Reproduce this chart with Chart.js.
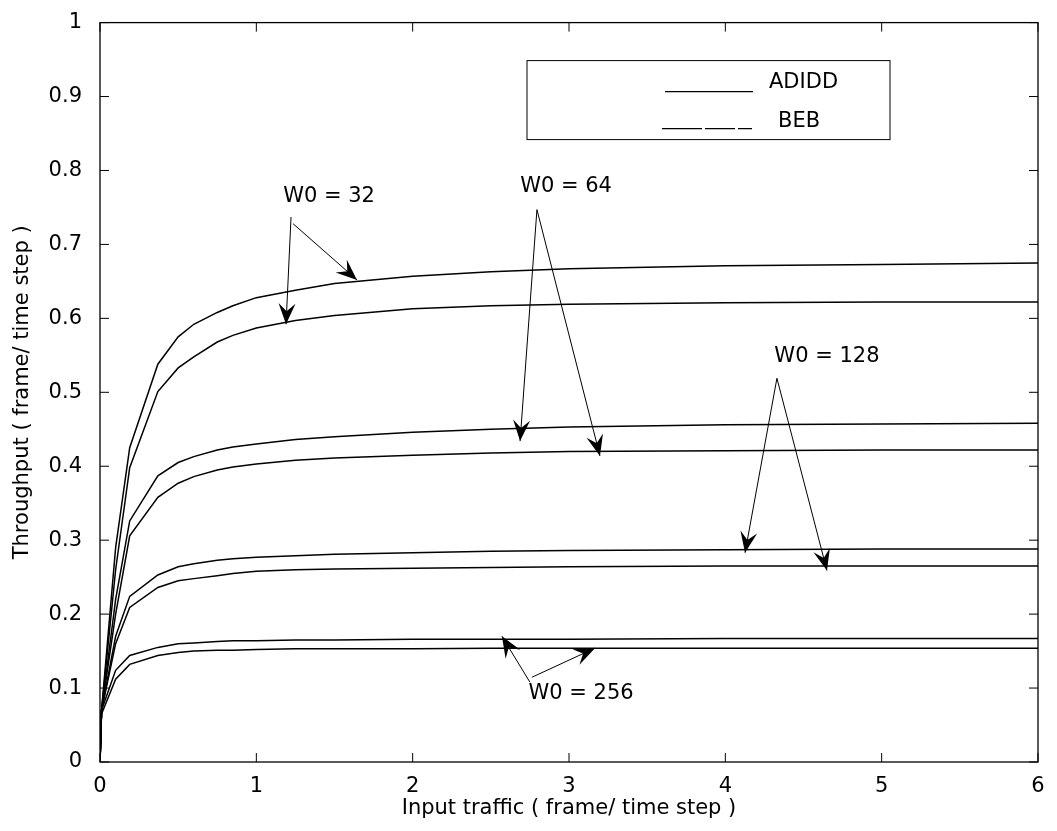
<!DOCTYPE html>
<html>
<head>
<meta charset="utf-8">
<script src="https://cdn.jsdelivr.net/npm/chart.js@4"></script>
<style>
  body { margin: 0; background: #fff; }
  canvas { display: block; }
</style>
</head>
<body>
<canvas id="grafico" width="1057" height="831"></canvas>
<script>
// input traffic sample points (frame / time step)
const trafico = [0, 0.01, 0.1, 0.19, 0.37, 0.5, 0.6, 0.75, 0.85, 1, 1.25, 1.5, 2, 2.5, 3, 4, 5, 6];

// throughput for each initial window W0
const adidd32 = [0, 0.07, 0.29, 0.425, 0.538, 0.575, 0.592, 0.608, 0.617, 0.628, 0.638, 0.647, 0.657, 0.663, 0.667, 0.671, 0.673, 0.675];
const beb32 = [0, 0.07, 0.26, 0.398, 0.501, 0.533, 0.548, 0.568, 0.577, 0.587, 0.597, 0.604, 0.613, 0.617, 0.619, 0.621, 0.622, 0.622];
const adidd64 = [0, 0.07, 0.22, 0.326, 0.387, 0.405, 0.413, 0.422, 0.426, 0.430, 0.436, 0.440, 0.446, 0.450, 0.453, 0.456, 0.457, 0.458];
const beb64 = [0, 0.07, 0.2, 0.306, 0.358, 0.377, 0.386, 0.395, 0.399, 0.403, 0.408, 0.411, 0.415, 0.418, 0.420, 0.421, 0.422, 0.422];
const adidd128 = [0, 0.07, 0.17, 0.224, 0.253, 0.264, 0.268, 0.273, 0.275, 0.277, 0.279, 0.281, 0.283, 0.285, 0.286, 0.287, 0.288, 0.288];
const beb128 = [0, 0.07, 0.16, 0.209, 0.236, 0.245, 0.248, 0.252, 0.255, 0.258, 0.260, 0.261, 0.262, 0.263, 0.264, 0.265, 0.265, 0.265];
const adidd256 = [0, 0.07, 0.124, 0.144, 0.155, 0.160, 0.161, 0.163, 0.164, 0.164, 0.165, 0.165, 0.166, 0.166, 0.166, 0.167, 0.167, 0.167];
const beb256 = [0, 0.065, 0.112, 0.132, 0.144, 0.148, 0.150, 0.151, 0.151, 0.152, 0.153, 0.153, 0.153, 0.154, 0.154, 0.154, 0.154, 0.154];

const series = [adidd32, beb32, adidd64, beb64, adidd128, beb128, adidd256, beb256];
const nombres = ["ADIDD", "BEB", "ADIDD", "BEB", "ADIDD", "BEB", "ADIDD", "BEB"];

// labels with arrows, given in axis units: text position, then arrow origins and tips
const etiquetas = [
  { texto: "W0 = 32", x: 1.465, y: 0.765, flechas: [[1.222, 0.737, 1.19, 0.592], [1.235, 0.728, 1.644, 0.652]] },
  { texto: "W0 = 64", x: 2.981, y: 0.778, flechas: [[2.795, 0.747, 2.687, 0.434], [2.795, 0.747, 3.198, 0.414]] },
  { texto: "W0 = 128", x: 4.65, y: 0.5485, flechas: [[4.33, 0.519, 4.126, 0.283], [4.33, 0.519, 4.65, 0.259]] },
  { texto: "W0 = 256", x: 3.077, y: 0.093, flechas: [[2.75, 0.108, 2.571, 0.17], [2.763, 0.1146, 3.166, 0.154]] },
];

const fuente = '"DejaVu Sans", sans-serif';

function flecha(ctx, x0, y0, x1, y1) {
  ctx.beginPath();
  ctx.moveTo(x0, y0);
  ctx.lineTo(x1, y1);
  ctx.stroke();
  const len = Math.hypot(x1 - x0, y1 - y0);
  const dx = (x1 - x0) / len, dy = (y1 - y0) / len;
  const L = 21, W = 8.5;
  ctx.beginPath();
  ctx.moveTo(x1, y1);
  ctx.lineTo(x1 - L * dx - W * dy, y1 - L * dy + W * dx);
  ctx.lineTo(x1 - 0.62 * L * dx, y1 - 0.62 * L * dy);
  ctx.lineTo(x1 - L * dx + W * dy, y1 - L * dy - W * dx);
  ctx.closePath();
  ctx.fill();
}

// box, inward ticks, legend and arrow labels
const marco = {
  id: "marco",
  afterDraw(chart) {
    const ctx = chart.ctx;
    const a = chart.chartArea;
    const sx = chart.scales.x, sy = chart.scales.y;
    ctx.save();
    ctx.strokeStyle = "#000";
    ctx.fillStyle = "#000";
    ctx.lineWidth = 1.3;
    ctx.strokeRect(a.left, a.top, a.right - a.left, a.bottom - a.top);

    const t = 9;
    ctx.lineWidth = 1;
    ctx.beginPath();
    sx.ticks.forEach((tk) => {
      const px = sx.getPixelForValue(tk.value);
      ctx.moveTo(px, a.bottom); ctx.lineTo(px, a.bottom - t);
      ctx.moveTo(px, a.top); ctx.lineTo(px, a.top + t);
    });
    sy.ticks.forEach((tk) => {
      const py = sy.getPixelForValue(tk.value);
      ctx.moveTo(a.left, py); ctx.lineTo(a.left + t, py);
      ctx.moveTo(a.right, py); ctx.lineTo(a.right - t, py);
    });
    ctx.stroke();

    // legend
    const lx = a.left + 427, ly = a.top + 38;
    ctx.lineWidth = 1;
    ctx.strokeRect(lx, ly, 363, 79);
    ctx.lineWidth = 1.3;
    ctx.beginPath();
    ctx.moveTo(lx + 138, ly + 31); ctx.lineTo(lx + 226, ly + 31);
    ctx.stroke();
    ctx.setLineDash([40, 3, 30, 3, 18, 2]);
    ctx.beginPath();
    ctx.moveTo(lx + 135, ly + 68); ctx.lineTo(lx + 225, ly + 68);
    ctx.stroke();
    ctx.setLineDash([]);
    ctx.font = "21px " + fuente;
    ctx.textBaseline = "middle";
    ctx.textAlign = "left";
    ctx.fillText("ADIDD", lx + 242, ly + 22);
    ctx.fillText("BEB", lx + 251, ly + 61);

    // arrow labels
    ctx.textAlign = "center";
    ctx.lineWidth = 1;
    etiquetas.forEach((e) => {
      ctx.fillText(e.texto, sx.getPixelForValue(e.x), sy.getPixelForValue(e.y));
      e.flechas.forEach((f) => {
        flecha(ctx, sx.getPixelForValue(f[0]), sy.getPixelForValue(f[1]),
          sx.getPixelForValue(f[2]), sy.getPixelForValue(f[3]));
      });
    });
    ctx.restore();
  },
};

const ctx = document.getElementById("grafico").getContext("2d");
new Chart(ctx, {
  type: "line",
  data: {
    datasets: series.map((s, i) => ({
      label: nombres[i],
      data: trafico.map((x, j) => ({ x: x, y: s[j] })),
      borderColor: "#000",
      borderWidth: 1.5,
      pointRadius: 0,
      tension: 0,
      fill: false,
    })),
  },
  options: {
    responsive: false,
    animation: false,
    devicePixelRatio: 1,
    layout: { padding: { top: 20, right: 19, left: 0, bottom: 0 } },
    plugins: { legend: { display: false }, tooltip: { enabled: false } },
    scales: {
      x: {
        type: "linear",
        min: 0,
        max: 6,
        grid: { display: false },
        border: { display: false },
        ticks: { stepSize: 1, color: "#000", padding: 4, font: { family: fuente, size: 21 } },
        title: {
          display: true,
          text: "Input traffic ( frame/ time step )",
          color: "#000",
          font: { family: fuente, size: 21 },
          padding: { top: 0, bottom: 10 },
        },
        afterFit: (s) => { s.height = 69; },
      },
      y: {
        min: 0,
        max: 1,
        grid: { display: false },
        border: { display: false },
        ticks: {
          stepSize: 0.1,
          color: "#000",
          padding: 10,
          font: { family: fuente, size: 21 },
          callback: (v) => String(Math.round(v * 10) / 10),
        },
        title: {
          display: true,
          text: "Throughput ( frame/ time step )",
          color: "#000",
          font: { family: fuente, size: 21 },
          padding: { top: 10, bottom: 0 },
        },
        afterFit: (s) => { s.width = 100; },
      },
    },
  },
  plugins: [marco],
});
</script>
</body>
</html>
